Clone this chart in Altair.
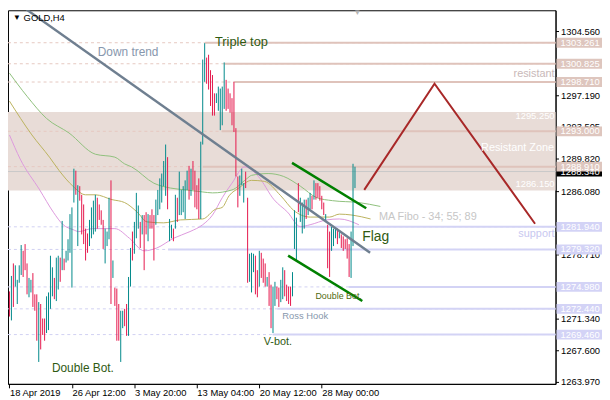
import altair as alt
import pandas as pd

# ---------------- data ----------------
bar_high = [
    1274.46, 1276.25, 1277.70, 1277.48, 1275.80, 1277.48, 1279.83, 1279.16, 1279.94, 1277.70,
    1276.02, 1275.80, 1276.58, 1274.12, 1274.12, 1273.22, 1273.00, 1271.32, 1271.32, 1273.89,
    1274.34, 1278.59, 1277.25, 1276.02, 1278.37, 1278.59, 1278.37, 1282.62, 1278.26, 1279.16,
    1280.50, 1283.41, 1284.19, 1288.67, 1288.44, 1286.76, 1286.65, 1285.65, 1284.53, 1281.73,
    1281.17, 1282.74, 1284.19, 1284.97, 1285.65, 1285.31, 1284.53, 1283.85, 1282.74, 1281.73,
    1281.39, 1285.31, 1287.32, 1278.04, 1274.90, 1274.79, 1273.00, 1272.22, 1272.22, 1272.44,
    1273.00, 1276.13, 1279.49, 1281.39, 1282.51, 1285.87, 1284.41, 1282.51, 1283.30, 1283.30,
    1283.63, 1283.41, 1283.30, 1283.97, 1283.30, 1285.09, 1286.21, 1287.55, 1288.11, 1289.56,
    1291.47, 1290.01, 1282.85, 1282.18, 1281.73, 1285.65, 1285.31, 1288.33, 1286.21, 1286.65,
    1287.32, 1288.44, 1289.00, 1288.67, 1289.56, 1288.44, 1286.76, 1287.55, 1291.80, 1301.31,
    1303.21, 1301.54, 1301.87, 1300.08, 1299.52, 1297.40, 1297.40, 1298.18, 1297.95, 1298.18,
    1300.98, 1298.96, 1297.95, 1297.40, 1296.84, 1298.74, 1293.37, 1287.77, 1287.88, 1288.67,
    1287.00, 1288.33, 1285.31, 1278.82, 1278.93, 1278.82, 1278.60, 1276.92, 1279.16, 1278.93,
    1278.26, 1277.70, 1276.13, 1276.69, 1275.24, 1275.02, 1275.57, 1275.02, 1274.90, 1275.80,
    1277.25, 1276.92, 1275.24, 1275.02, 1275.02, 1276.69, 1283.86, 1283.00, 1287.00, 1285.31,
    1284.75, 1285.09, 1285.09, 1285.31, 1285.87, 1285.53, 1287.32, 1287.00, 1287.00, 1286.65,
    1285.53, 1284.75, 1283.41, 1282.18, 1281.39, 1281.96, 1281.73, 1281.73, 1281.73, 1281.39,
    1281.06, 1280.83, 1280.50, 1280.61, 1279.94, 1281.39, 1289.24, 1288.90,
]
bar_low = [
    1271.55, 1271.10, 1272.66, 1275.02, 1273.00, 1275.46, 1276.36, 1276.13, 1276.92, 1274.12,
    1273.78, 1274.34, 1272.66, 1272.22, 1268.75, 1266.29, 1267.74, 1269.42, 1268.75, 1269.64,
    1269.98, 1272.44, 1273.89, 1273.56, 1273.34, 1274.68, 1275.57, 1276.92, 1276.92, 1277.81,
    1278.04, 1278.93, 1274.90, 1284.75, 1285.65, 1279.71, 1284.97, 1281.06, 1279.94, 1278.04,
    1278.93, 1279.71, 1280.61, 1281.06, 1281.39, 1281.73, 1282.74, 1282.18, 1279.38, 1277.70,
    1279.71, 1280.50, 1273.00, 1276.02, 1272.78, 1268.75, 1268.75, 1266.29, 1270.20, 1270.43,
    1269.31, 1269.31, 1275.02, 1278.04, 1278.82, 1280.61, 1281.73, 1279.49, 1281.06, 1276.92,
    1281.06, 1280.27, 1281.73, 1281.73, 1278.04, 1282.18, 1283.30, 1283.97, 1284.75, 1286.65,
    1285.53, 1283.97, 1280.27, 1280.61, 1280.27, 1281.73, 1282.51, 1283.30, 1283.30, 1283.63,
    1282.85, 1286.21, 1285.09, 1285.53, 1286.21, 1284.19, 1283.97, 1282.85, 1282.85, 1291.47,
    1298.74, 1298.51, 1297.84, 1295.94, 1294.82, 1294.82, 1296.28, 1295.38, 1293.14, 1293.70,
    1295.60, 1295.38, 1295.60, 1295.16, 1293.70, 1292.92, 1287.77, 1284.19, 1285.53, 1286.76,
    1284.75, 1286.43, 1275.46, 1275.57, 1274.34, 1276.69, 1274.12, 1273.78, 1275.02, 1276.02,
    1275.46, 1275.02, 1275.02, 1272.78, 1270.20, 1269.64, 1272.78, 1273.56, 1272.66, 1273.22,
    1273.56, 1273.89, 1273.34, 1273.00, 1272.78, 1273.89, 1279.38, 1278.00, 1283.64, 1282.51,
    1281.17, 1281.73, 1282.85, 1283.30, 1283.97, 1283.97, 1285.09, 1285.09, 1285.31, 1284.97,
    1283.97, 1283.30, 1282.51, 1277.14, 1276.13, 1279.16, 1279.71, 1280.61, 1279.94, 1280.61,
    1279.49, 1279.16, 1279.38, 1278.26, 1276.13, 1276.02, 1279.71, 1286.43,
]
bar_dir = list("".join("""
duduuuuddd uudddudddu uuuduududu uuuududddd duuuuddddu
uududdduud duuduuudud duddduuuuu uduududuuu uududddduu
uddddduuuu uddddddduu udduuuddud ddudduuddu udddduuudu
uuduududdd ddudduuudu ddddduuu""".split()))

ma34_i = [0, 5.5, 15.5, 22.5, 27.5, 32.5, 35.5, 42.5, 54, 61.5, 69, 75.5, 84, 92.5, 99, 104,
          109, 114, 120.5, 127.5, 135.5, 142.5, 149, 154, 162.5, 169, 179]
ma34_p = [1292.58, 1289.79, 1286.21, 1283.63, 1282.18, 1281.62, 1281.39, 1281.73, 1281.73,
          1280.61, 1279.16, 1279.49, 1280.61, 1281.39, 1282.18, 1283.30, 1285.31, 1287.00,
          1288.89, 1287.77, 1285.09, 1283.63, 1281.96, 1282.18, 1282.74, 1282.85, 1282.18]
ma55_i = [0, 11.5, 20.5, 25.5, 32.5, 39, 44, 52.5, 59, 65.5, 70.5, 79, 87.5, 99, 105.5, 109,
          112.5, 117.5, 124, 130.5, 139, 145.5, 154, 164, 169, 175.5, 185]
ma55_p = [1296.50, 1292.58, 1290.01, 1288.44, 1286.65, 1285.65, 1285.65, 1285.09, 1284.75,
          1283.63, 1282.51, 1282.40, 1282.74, 1282.85, 1283.97, 1284.19, 1285.53, 1286.43,
          1287.32, 1287.21, 1285.53, 1283.86, 1283.07, 1283.07, 1283.41, 1283.30, 1282.85]
ma89_i = [0, 9, 19, 30.5, 44, 54, 59, 62.5, 74, 82.5, 90.5, 99, 104, 114, 121.5, 124, 132.5,
          140.5, 149, 157.5, 165.5, 179, 190]
ma89_p = [1299.74, 1297.06, 1294.49, 1292.81, 1290.35, 1290.01, 1289.23, 1288.89, 1286.99,
          1286.43, 1286.21, 1285.98, 1285.87, 1286.21, 1287.50, 1287.90, 1288.11, 1287.77,
          1286.65, 1285.31, 1284.97, 1284.75, 1284.30]

res_levels = [1303.261, 1300.825, 1298.710, 1293.000, 1288.910]
res_start = [100.25, 110.25, 115.25, 108.75, 99.0]
sup_levels = [1281.940, 1279.320, 1274.980, 1272.440, 1269.460]
sup_start = [97.25, 81.25, 173.75, 137.25, 134.75]
zone_bottom, zone_top = 1286.150, 1295.250
bid_price = 1288.340

trend_i = [8.75, 184.75]
trend_p = [1307.1, 1278.94]
flag_up_i = [144.75, 182.75]
flag_up_p = [1289.35, 1284.09]
flag_dn_i = [142.75, 180.75]
flag_dn_p = [1278.61, 1273.35]
proj_i = [181.75, 217.75, 269.25]
proj_p = [1286.22, 1298.52, 1282.30]

y_ticks = [1304.560, 1297.190, 1293.505, 1289.820, 1286.080,
           1278.710, 1271.340, 1267.600, 1263.970]
x_ticks = [0, 32, 64, 96, 128, 160]
x_labels = ["18 Apr 2019", "26 Apr 12:00", "3 May 20:00", "13 May 04:00",
            "20 May 12:00", "28 May 00:00"]

# ---------------- styling ----------------
W, H = 554, 378
FONT = "Liberation Sans"
TEAL, RED = "#00898a", "#e5174c"
RES_LINE, RES_DASH, RES_BOX = "#dfc3bb", "#e6c8c0", "#dec6be"
SUP_LINE, SUP_DASH, SUP_BOX = "#d3d3f5", "#d0d0f2", "#d3d3f6"
ZONE = "#e8dcd7"
GREEN_TXT = "#2f5a12"
BLUEGRAY = "#8797ad"

xs = alt.Scale(domain=[-0.75, 279.75], nice=False, zero=False)
ys = alt.Scale(domain=[1263.75, 1307.02], nice=False, zero=False)

label_expr = " : ".join(f"datum.value == {v} ? '{l}'" for v, l in zip(x_ticks, x_labels)) + " : ''"
x_axis = alt.Axis(values=x_ticks, labelExpr=label_expr, orient="bottom", title=None, grid=False,
                  domainColor="black", tickColor="black", tickSize=4, labelAlign="left",
                  labelPadding=0, labelFont=FONT, labelFontSize=9.5, labelColor="black",
                  labelFlush=False, labelOverlap=False)
y_axis = alt.Axis(values=y_ticks, format=".3f", orient="right", title=None, grid=False,
                  domainColor="black", tickColor="black", tickSize=3, labelPadding=2,
                  labelFont=FONT, labelFontSize=9.5, labelColor="black",
                  labelOverlap=False, labelFlush=False)


def ex(f):
    return alt.X(f, type="quantitative", scale=xs, axis=x_axis)


def ey(f):
    return alt.Y(f, type="quantitative", scale=ys, axis=y_axis)


# ---------------- tables ----------------
candles = pd.DataFrame({"i": list(range(len(bar_high))), "high": bar_high,
                        "low": bar_low, "dir": bar_dir})
zone_df = pd.DataFrame({"p": [zone_bottom], "p2": [zone_top]})
levels = pd.DataFrame({
    "p": res_levels + sup_levels,
    "s": res_start + sup_start,
    "line": [RES_LINE] * len(res_levels) + [SUP_LINE] * len(sup_levels),
    "dash": [RES_DASH] * len(res_levels) + [SUP_DASH] * len(sup_levels),
})
bid_df = pd.DataFrame({"p": [bid_price]})
ma_df = pd.concat([
    pd.DataFrame({"i": ma34_i, "p": ma34_p, "s": "MA34"}),
    pd.DataFrame({"i": ma55_i, "p": ma55_p, "s": "MA55"}),
    pd.DataFrame({"i": ma89_i, "p": ma89_p, "s": "MA89"}),
])
trend_df = pd.DataFrame({"i": trend_i, "p": trend_p})
flag_df = pd.concat([
    pd.DataFrame({"i": flag_up_i, "p": flag_up_p, "s": "up"}),
    pd.DataFrame({"i": flag_dn_i, "p": flag_dn_p, "s": "down"}),
])
proj_df = pd.DataFrame({"i": proj_i, "p": proj_p, "o": [0, 1, 2]})

box_df = pd.DataFrame({
    "p": [bid_price] + res_levels + sup_levels,
    "t": [f"{v:.3f}" for v in [bid_price] + res_levels + sup_levels],
    "c": ["black"] + [RES_BOX] * len(res_levels) + [SUP_BOX] * len(sup_levels),
})

left_texts = pd.DataFrame([
    {"t": "\u25BC", "i": 1.75, "p": 1306.07, "c": "black", "s": 8},
    {"t": "GOLD,H4", "i": 7.25, "p": 1306.07, "c": "black", "s": 9.5},
    {"t": "\u25BC", "i": 176.25, "p": 1306.69, "c": "#b4b4b4", "s": 8},
    {"t": "Down trend", "i": 45.25, "p": 1302.21, "c": BLUEGRAY, "s": 12},
    {"t": "Triple top", "i": 105.25, "p": 1303.33, "c": GREEN_TXT, "s": 13},
    {"t": "MA Fibo - 34; 55; 89", "i": 189.25, "p": 1283.10, "c": "#c6c6c6", "s": 11},
    {"t": "Flag", "i": 180.75, "p": 1280.80, "c": GREEN_TXT, "s": 14},
    {"t": "Double Bot.", "i": 156.75, "p": 1273.91, "c": "#4f6a10", "s": 9},
    {"t": "Ross Hook", "i": 139.75, "p": 1271.56, "c": BLUEGRAY, "s": 9.5},
    {"t": "V-bot.", "i": 130.25, "p": 1268.65, "c": GREEN_TXT, "s": 11},
    {"t": "Double Bot.", "i": 21.75, "p": 1265.63, "c": GREEN_TXT, "s": 12},
])
right_texts = pd.DataFrame([
    {"t": "resistant", "i": 279.25, "p": 1299.64, "c": "#c8b8b8", "s": 11},
    {"t": "1295.250", "i": 279.25, "p": 1294.77, "c": "white", "s": 9.5},
    {"t": "Resistant Zone", "i": 279.0, "p": 1291.03, "c": "white", "s": 11},
    {"t": "1286.150", "i": 279.25, "p": 1286.89, "c": "white", "s": 9.5},
    {"t": "support", "i": 279.25, "p": 1281.12, "c": "#c8c8f0", "s": 11},
])

# ---------------- layers ----------------
zone = alt.Chart(zone_df).mark_rect(color=ZONE).encode(
    x=alt.value(0), x2=alt.value(W), y=ey("p"), y2="p2")

dashed = alt.Chart(levels).mark_rule(strokeDash=[3, 3], strokeWidth=1).encode(
    y=ey("p"), x=alt.value(0), x2=alt.value(W), color=alt.Color("dash:N", scale=None))

bid = alt.Chart(bid_df).mark_rule(color="#c8c8c8", strokeWidth=1).encode(
    y=ey("p"), x=alt.value(0), x2=alt.value(W))

solid = alt.Chart(levels).mark_rule(strokeWidth=2).encode(
    x=ex("s"), x2=alt.value(W), y=ey("p"), color=alt.Color("line:N", scale=None))

mas = alt.Chart(ma_df).mark_line(strokeWidth=1, interpolate="monotone").encode(
    x=ex("i"), y=ey("p"),
    color=alt.Color("s:N", scale=alt.Scale(domain=["MA34", "MA55", "MA89"],
                                           range=["#dd99dd", "#bbb25e", "#8fc07c"]),
                    legend=None))

bars = alt.Chart(candles).mark_rule(strokeWidth=1).encode(
    x=ex("i"), y=ey("low"), y2="high",
    color=alt.Color("dir:N", scale=alt.Scale(domain=["u", "d"], range=[TEAL, RED]), legend=None))

trend = alt.Chart(trend_df).mark_line(color="#6f7f90", strokeWidth=2.5, clip=True).encode(
    x=ex("i"), y=ey("p"))
flags = alt.Chart(flag_df).mark_line(color="#008000", strokeWidth=2.5).encode(
    x=ex("i"), y=ey("p"), detail="s:N")
proj = alt.Chart(proj_df).mark_line(color="#a82828", strokeWidth=2).encode(
    x=ex("i"), y=ey("p"), order="o:Q")

ltext = alt.Chart(left_texts).mark_text(align="left", baseline="middle", font=FONT).encode(
    x=ex("i"), y=ey("p"), text="t:N",
    color=alt.Color("c:N", scale=None), size=alt.Size("s:Q", scale=None))
rtext = alt.Chart(right_texts).mark_text(align="right", baseline="middle", font=FONT).encode(
    x=ex("i"), y=ey("p"), text="t:N",
    color=alt.Color("c:N", scale=None), size=alt.Size("s:Q", scale=None))

boxes = alt.Chart(box_df).mark_rect(yOffset=-5, y2Offset=5).encode(
    x=alt.value(W + 1), x2=alt.value(W + 47), y=ey("p"), y2="p",
    color=alt.Color("c:N", scale=None))
box_text = alt.Chart(box_df).mark_text(align="left", baseline="middle", font=FONT,
                                       fontSize=9.5, color="white").encode(
    x=alt.value(W + 5), y=ey("p"), text="t:N")

chart = alt.layer(
    zone, dashed, bid, solid, mas, bars, trend, flags, proj, ltext, rtext, boxes, box_text
).resolve_scale(
    color="independent", size="independent"
).properties(
    width=W, height=H,
    padding={"left": 0, "top": 0, "right": 47, "bottom": 13},
    autosize=alt.AutoSizeParams(type="none"),
    background="white",
).configure_view(stroke="black", strokeWidth=1)

chart.save("out.html", embed_options={"renderer": "svg", "actions": False})
